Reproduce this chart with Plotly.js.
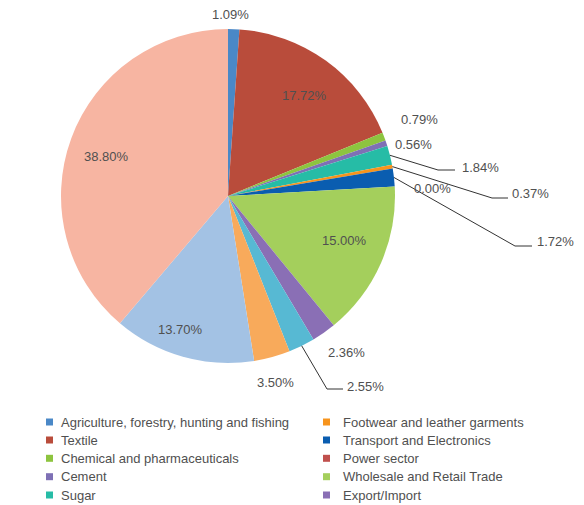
<!DOCTYPE html>
<html>
<head>
<meta charset="utf-8">
<script src="https://cdn.plot.ly/plotly-3.0.1.min.js"></script>
<style>html,body{margin:0;padding:0;background:#fff;}#chart{width:584px;height:505px;}</style>
</head>
<body>
<div id="chart"></div>
<script>
// ---- data ----
const sliceLabels = [
  'Agriculture, forestry, hunting and fishing',
  'Textile',
  'Chemical and pharmaceuticals',
  'Cement',
  'Sugar',
  'Footwear and leather garments',
  'Transport and Electronics',
  'Power sector',
  'Wholesale and Retail Trade',
  'Export/Import',
  'Category 11',
  'Category 12',
  'Category 13',
  'Category 14'
];
const sliceValues = [1.09, 17.72, 0.79, 0.56, 1.84, 0.37, 1.72, 0.00, 15.00, 2.36, 2.55, 3.50, 13.70, 38.80];
const legendLabels = sliceLabels.slice(0, 10);

// ---- styles ----
const sliceColors = ['#4a88c7', '#b94c3b', '#8dc43f', '#7e70b5', '#26bca6', '#f7941d',
  '#0a5db0', '#c0504d', '#a4cf5c', '#8a6fb5', '#57b9d3', '#f8aa5b', '#a3c2e4', '#f7b5a2'];

// label layout (pixel centres) and leader elbows
const labelCentres = [[230,14],[304,96],[419,119],[413,144],[480,167],[530,193],[555,241],
  [432,188],[344,240],[346,352],[365,386],[275,382],[180,329],[106,156]];
const leaderElbows = {4: [[438,170],[455,170]], 5: [[492,198],[508,198]], 6: [[515,246],[532,246]], 10: [[327,389],[343,389]]};

const W = 584, H = 505;
const cx = 228, cy = 196, R = 167;
const px = x => x / W;
const py = y => 1 - y / H;

const total = sliceValues.reduce((a, b) => a + b, 0);
let cum = 0;
const midAngles = sliceValues.map(v => { const m = (cum + v / 2) / total * 2 * Math.PI; cum += v; return m; });

const annotations = [];
const shapes = [];
sliceValues.forEach((v, i) => {
  const [lx, ly] = labelCentres[i];
  annotations.push({
    xref: 'paper', yref: 'paper', x: px(lx), y: py(ly), xanchor: 'center', yanchor: 'middle',
    text: v.toFixed(2) + '%', showarrow: false,
    font: {family: 'Liberation Sans, Arial, sans-serif', size: 13, color: '#505050'}
  });
  if (leaderElbows[i]) {
    const a = midAngles[i];
    const sx = cx + R * Math.sin(a), sy = cy - R * Math.cos(a);
    const [e1, e2] = leaderElbows[i];
    shapes.push({
      type: 'path', xref: 'paper', yref: 'paper',
      path: `M ${px(sx)} ${py(sy)} L ${px(e1[0])} ${py(e1[1])} L ${px(e2[0])} ${py(e2[1])}`,
      line: {color: '#333333', width: 1}
    });
  }
});

// legend (two columns, column-major)
const legCols = [{mx: 46, tx: 59}, {mx: 323, tx: 341}];
const legRows = [422, 440, 458.3, 476.7, 495];
legendLabels.forEach((lab, i) => {
  const col = legCols[Math.floor(i / 5)];
  const ry = legRows[i % 5];
  shapes.push({
    type: 'rect', xref: 'paper', yref: 'paper',
    x0: px(col.mx), x1: px(col.mx + 7), y0: py(ry - 3.5), y1: py(ry + 3.5),
    fillcolor: sliceColors[i], line: {width: 0}
  });
  annotations.push({
    xref: 'paper', yref: 'paper', x: px(col.tx), y: py(ry), xanchor: 'left', yanchor: 'middle',
    text: lab, showarrow: false,
    font: {family: 'Liberation Sans, Arial, sans-serif', size: 13, color: '#505050'}
  });
});

const trace = {
  type: 'pie',
  labels: sliceLabels,
  values: sliceValues,
  sort: false,
  direction: 'clockwise',
  rotation: 0,
  textinfo: 'none',
  hoverinfo: 'label+percent',
  showlegend: false,
  marker: {colors: sliceColors, line: {width: 0}},
  domain: {x: [px(cx - R), px(cx + R)], y: [py(cy + R), py(cy - R)]}
};

const layout = {
  width: W, height: H,
  margin: {l: 0, r: 0, t: 0, b: 0},
  paper_bgcolor: '#ffffff',
  showlegend: false,
  annotations: annotations,
  shapes: shapes
};

Plotly.newPlot('chart', [trace], layout, {displayModeBar: false, staticPlot: true});
</script>
</body>
</html>
